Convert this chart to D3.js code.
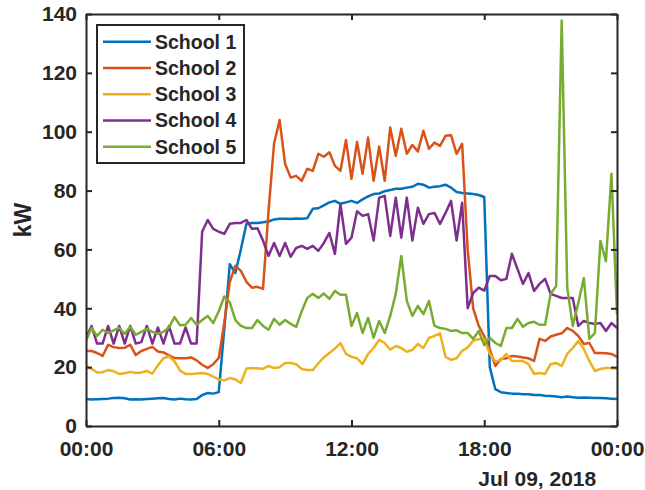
<!DOCTYPE html>
<html>
<head>
<meta charset="utf-8">
<script src="https://cdn.jsdelivr.net/npm/d3@7"></script>
<style>
  body { margin: 0; background: #fff; }
  svg { display: block; }
  text { font-family: "Liberation Sans", Arial, Helvetica, sans-serif; font-weight: bold; fill: #262626; }
</style>
</head>
<body>
<svg id="chart" width="645" height="490"></svg>
<script>
// ---------------- DATA ----------------
const seriesNames = ["School 1", "School 2", "School 3", "School 4", "School 5"];
const startTime = "2018-07-09T00:00:00Z";
const stepMinutes = 15;
const yTickValues = [0, 20, 40, 60, 80, 100, 120, 140];
const xTickLabels = ["00:00", "06:00", "12:00", "18:00", "00:00"];
const dateLabel = "Jul 09, 2018";
const yLabel = "kW";

const school1 = [
  9.2, 9.0, 9.1, 9.2, 9.3, 9.5, 9.6, 9.4, 9.0, 9.1,
  9.0, 9.2, 9.3, 9.4, 9.5, 9.2, 9.0, 9.3, 9.1, 9.0,
  9.2, 10.5, 11.2, 11.0, 11.5, 33, 55, 52, 60, 68.7,
  69, 69, 69.2, 69.5, 70.2, 70.4, 70.4, 70.3, 70.5, 70.4,
  70.6, 73.8, 74, 75, 76, 76.5, 75.5, 76, 76.5, 75.8,
  77, 78, 78.8, 79, 79.8, 80.2, 80.6, 80.6, 81, 81.3,
  82.3, 82, 81, 81.3, 81.5, 82, 81, 79.5, 79.2, 79,
  78.8, 78.5, 77.8, 20, 12.5, 11.5, 11.2, 11, 11, 10.8,
  10.8, 10.5, 10.5, 10.3, 10.2, 10, 9.8, 10, 9.8, 9.6,
  9.7, 9.6, 9.5, 9.5, 9.4, 9.3, 9.2
];
const school2 = [
  25.5, 25.5, 24.8, 23.8, 27.6, 26.8, 26.5, 26.6, 27.6, 24.1,
  25.5, 26.2, 26.9, 25.3, 25, 24, 23.1, 23, 23, 23.3,
  22.3, 20.8, 19.7, 21, 23.1, 35, 49, 54.4, 52.7, 49,
  47, 47.3, 46.6, 73, 96, 104, 89, 84.4, 85, 83.3,
  87.4, 86.7, 92.5, 91.5, 93, 88.4, 86.7, 97.2, 84, 96.5,
  85.7, 98, 83.3, 95, 83.3, 101.4, 91.8, 101, 92.5, 95.5,
  93.3, 100.3, 94.2, 96.3, 95.2, 98.6, 98.8, 92.5, 95.9, 60,
  40, 34, 30.5, 26, 20.4, 22.8, 23, 23.8, 23.6, 23.3,
  23, 22.1, 29.6, 28.9, 30.4, 31, 31.5, 33.3, 32.3, 30.6,
  27.9, 28.2, 24.8, 24.8, 24.7, 24.5, 23.5
];
const school3 = [
  20.4, 19.4, 18.2, 18.3, 19.0, 18.6, 17.7, 17.9, 18.4, 18.0,
  18.2, 18.7, 17.8, 20.6, 23, 23.6, 22, 18.8, 17.7, 17.7,
  17.8, 18, 17.7, 16.8, 15.8, 15.5, 16.3, 15.8, 14.6, 19.5,
  19.7, 19.6, 19.4, 20.4, 19.7, 20, 21.4, 21.4, 21, 19.4,
  19, 19, 21.3, 23.3, 24.8, 26.3, 28.2, 24.5, 23.5, 23,
  21, 24.5, 26.5, 29.3, 28.2, 25.9, 27.2, 26.5, 25.2, 25.9,
  27.9, 26.5, 29.9, 30.6, 31.5, 23.5, 22.5, 23, 25.5, 26.7,
  29, 29.5, 29.5, 24.5, 22, 22.3, 24.5, 22.1, 22.1, 22.1,
  21, 17.7, 18, 17.7, 21, 21.4, 20.4, 24.5, 26.5, 28.9,
  26.2, 22.1, 18.7, 19.4, 19.7, 19.7, 19.4
];
const school4 = [
  30, 34, 28, 28, 34, 28, 34, 28, 34, 28,
  28.5, 34, 28, 33.5, 28, 34, 28, 28, 33.5, 28,
  28, 66, 70, 67, 66, 65.3, 68.7, 69, 69, 70,
  67, 67.2, 63, 57.8, 62.2, 57.8, 62.2, 57.5, 60.5, 61.2,
  60.2, 61.2, 59.5, 62.2, 65.6, 58.5, 75.5, 61.9, 64, 73,
  71.4, 72, 63, 77.6, 78.2, 64.6, 77.6, 64, 77.6, 63,
  74.2, 68.7, 72, 72.4, 68.7, 72.4, 76.5, 63, 75.9, 40,
  45.2, 47, 46, 51, 51, 49.5, 50, 58.5, 53.4, 48.3,
  52, 45.9, 48.3, 50, 44.9, 44.2, 43.5, 43.5, 43.5, 34,
  35.7, 35, 34.7, 35, 32.3, 35, 33.3
];
const school5 = [
  29, 33.3, 30.6, 32.7, 31.6, 32.5, 33.3, 31.3, 33.7, 31,
  32, 33, 32, 31.3, 32, 33.5, 37, 34.2, 34.4, 36.7,
  34.4, 36, 37.4, 35, 39, 44, 42, 36, 34, 33.3,
  33.3, 36, 34, 32.7, 36.4, 34.4, 36, 34.7, 33.7, 39,
  43.5, 44.9, 43.5, 45, 43.2, 45.9, 44.6, 44.6, 34, 38.4,
  31.6, 36.7, 30, 35.7, 31.6, 37.4, 44.9, 57.8, 42.5, 37.4,
  40.8, 38, 42.5, 34, 33.3, 33, 32.3, 32.5, 31.6, 31.6,
  29.6, 32.3, 27.5, 30, 28.2, 27.2, 33.3, 33.3, 36.4, 33.7,
  35, 35.4, 34.4, 34.4, 44.9, 47.6, 137.8, 47, 34, 41.8,
  50.3, 29.6, 31.6, 62.9, 56, 85.7, 38
];
const seriesValues = [school1, school2, school3, school4, school5];

// ---------------- STYLE / LAYOUT ----------------
const colors = ["#0072BD", "#D95319", "#EDB120", "#7E2F8E", "#77AC30"];
const axisColor = "#262626";
const margin = { left: 86, right: 28, top: 14, bottom: 64 };
const W = 645, H = 490;

const svg = d3.select("#chart");
const t0 = new Date(startTime);
const t1 = d3.utcHour.offset(t0, 24);
const times = school1.map((_, i) => d3.utcMinute.offset(t0, i * stepMinutes));

const x = d3.scaleUtc().domain([t0, t1]).range([margin.left, W - margin.right]);
const y = d3.scaleLinear().domain([0, 140]).range([H - margin.bottom, margin.top]);
const xTicks = xTickLabels.map((_, i) => d3.utcHour.offset(t0, i * 6));

svg.append("defs").append("clipPath").attr("id", "clip")
  .append("rect")
  .attr("x", x.range()[0]).attr("y", y.range()[1])
  .attr("width", x.range()[1] - x.range()[0])
  .attr("height", y.range()[0] - y.range()[1]);

// lines
const line = d3.line().x((d, i) => x(times[i])).y(d => y(d));
const gLines = svg.append("g").attr("clip-path", "url(#clip)");
seriesValues.forEach((vals, k) => {
  gLines.append("path")
    .datum(vals)
    .attr("d", line)
    .attr("fill", "none")
    .attr("stroke", colors[k])
    .attr("stroke-width", 2.5)
    .attr("stroke-linejoin", "round");
});

// axes
function styleAxis(g) {
  g.selectAll("path.domain").attr("stroke", axisColor).attr("stroke-width", 2);
  g.selectAll(".tick line").attr("stroke", axisColor).attr("stroke-width", 2);
  g.selectAll(".tick text").attr("font-size", 21).attr("fill", axisColor)
    .style("font-family", '"Liberation Sans", Arial, sans-serif').style("font-weight", "bold");
}
const fmt = (d, i) => xTickLabels[i];

svg.append("g")
  .attr("transform", `translate(0,${y.range()[0]})`)
  .call(d3.axisBottom(x).tickValues(xTicks).tickFormat(fmt).tickSize(-6).tickSizeOuter(0).tickPadding(15))
  .call(styleAxis);
svg.append("g")
  .attr("transform", `translate(0,${y.range()[1]})`)
  .call(d3.axisTop(x).tickValues(xTicks).tickFormat("").tickSize(-6).tickSizeOuter(0))
  .call(styleAxis);
svg.append("g")
  .attr("transform", `translate(${x.range()[0]},0)`)
  .call(d3.axisLeft(y).tickValues(yTickValues).tickSize(-6).tickSizeOuter(0).tickPadding(9))
  .call(styleAxis);
svg.append("g")
  .attr("transform", `translate(${x.range()[1]},0)`)
  .call(d3.axisRight(y).tickValues(yTickValues).tickFormat("").tickSize(-6).tickSizeOuter(0))
  .call(styleAxis);

// date label
svg.append("text")
  .attr("x", x(xTicks[3]) + 53)
  .attr("y", 486)
  .attr("text-anchor", "middle")
  .attr("font-size", 21)
  .text(dateLabel);

// y label
svg.append("text")
  .attr("transform", `translate(31,${(y.range()[0] + y.range()[1]) / 2}) rotate(-90)`)
  .attr("text-anchor", "middle")
  .attr("font-size", 23)
  .text(yLabel);

// legend
const lg = svg.append("g");
const lgX = 97, lgY = 25, lgW = 147, lgH = 138, rowH = 26.25, row0 = 41.7;
lg.append("rect")
  .attr("x", lgX).attr("y", lgY).attr("width", lgW).attr("height", lgH)
  .attr("fill", "#fff").attr("stroke", axisColor).attr("stroke-width", 2);
seriesNames.forEach((name, k) => {
  const yy = row0 + k * rowH;
  lg.append("line")
    .attr("x1", 103).attr("x2", 151).attr("y1", yy).attr("y2", yy)
    .attr("stroke", colors[k]).attr("stroke-width", 2.5);
  lg.append("text")
    .attr("x", 155).attr("y", yy).attr("dy", "0.36em")
    .attr("font-size", 19.5)
    .text(name);
});
</script>
</body>
</html>
